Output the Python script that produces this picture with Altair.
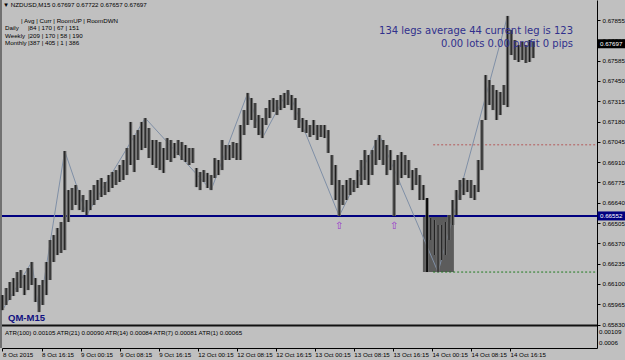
import altair as alt
import pandas as pd

# ---------------- data ----------------
# M15 candles, every 3rd bar sampled (bar index = 3*k)
bar_high = [0.66026, 0.66073, 0.66113, 0.66139, 0.66179, 0.66192, 0.66159, 0.66206, 0.66246, 0.66139,
            0.66093, 0.66126, 0.66246, 0.66392, 0.66425, 0.66472, 0.66512, 0.66984, 0.66724, 0.66738,
            0.66758, 0.66724, 0.66691, 0.66658, 0.66724, 0.66758, 0.66791, 0.66804, 0.66778, 0.66824,
            0.66844, 0.66857, 0.66891, 0.66924, 0.67004, 0.67177, 0.67090, 0.67123, 0.67177, 0.67203,
            0.67137, 0.67057, 0.67057, 0.67044, 0.67004, 0.67070, 0.67057, 0.67037, 0.67057, 0.67044,
            0.67024, 0.67004, 0.67004, 0.66871, 0.66844, 0.66857, 0.66838, 0.66824, 0.66937, 0.66924,
            0.67057, 0.67024, 0.67024, 0.67044, 0.67037, 0.67157, 0.67256, 0.67370, 0.67336, 0.67303,
            0.67223, 0.67203, 0.67270, 0.67323, 0.67336, 0.67323, 0.67356, 0.67370, 0.67389, 0.67356,
            0.67336, 0.67270, 0.67203, 0.67190, 0.67157, 0.67190, 0.67157, 0.67157, 0.67157, 0.67123,
            0.66957, 0.66891, 0.66791, 0.66758, 0.66791, 0.66804, 0.66791, 0.66857, 0.66924, 0.66990,
            0.66957, 0.66990, 0.67057, 0.67090, 0.67057, 0.67024, 0.66990, 0.66924, 0.66957, 0.66977,
            0.66957, 0.66924, 0.66857, 0.66871, 0.66824, 0.66758, 0.66671, 0.66538, 0.66525, 0.66492,
            0.66492, 0.66512, 0.66558, 0.66658, 0.66724, 0.66791, 0.66804, 0.66791, 0.66791, 0.66758,
            0.66924, 0.67190, 0.67489, 0.67456, 0.67423, 0.67389, 0.67376, 0.67423, 0.67882, 0.67788,
            0.67722, 0.67689, 0.67709, 0.67689, 0.67722, 0.67709]
bar_low = [0.65926, 0.65960, 0.65993, 0.66020, 0.66046, 0.66073, 0.66026, 0.66059, 0.66093, 0.65980,
           0.65913, 0.65960, 0.66026, 0.66126, 0.66246, 0.66292, 0.66306, 0.66325, 0.66512, 0.66591,
           0.66625, 0.66591, 0.66578, 0.66558, 0.66591, 0.66625, 0.66658, 0.66678, 0.66691, 0.66711,
           0.66738, 0.66758, 0.66778, 0.66791, 0.66824, 0.66891, 0.66844, 0.66924, 0.66990, 0.67004,
           0.66937, 0.66891, 0.66871, 0.66857, 0.66838, 0.66924, 0.66911, 0.66937, 0.66957, 0.66924,
           0.66911, 0.66891, 0.66904, 0.66744, 0.66724, 0.66778, 0.66738, 0.66724, 0.66804, 0.66824,
           0.66857, 0.66924, 0.66924, 0.66937, 0.66924, 0.66924, 0.67090, 0.67157, 0.67190, 0.67137,
           0.67090, 0.67070, 0.67157, 0.67203, 0.67243, 0.67223, 0.67256, 0.67270, 0.67290, 0.67256,
           0.67190, 0.67137, 0.67110, 0.67104, 0.67077, 0.67090, 0.67057, 0.67077, 0.67070, 0.66971,
           0.66758, 0.66658, 0.66552, 0.66625, 0.66658, 0.66691, 0.66711, 0.66738, 0.66758, 0.66791,
           0.66758, 0.66824, 0.66891, 0.66924, 0.66891, 0.66824, 0.66857, 0.66552, 0.66758, 0.66804,
           0.66824, 0.66804, 0.66724, 0.66758, 0.66658, 0.66658, 0.66179, 0.66392, 0.66292, 0.66179,
           0.66259, 0.66292, 0.66392, 0.66492, 0.66558, 0.66658, 0.66691, 0.66711, 0.66671, 0.66658,
           0.66711, 0.66857, 0.67190, 0.67290, 0.67256, 0.67190, 0.67223, 0.67290, 0.67276, 0.67622,
           0.67589, 0.67576, 0.67589, 0.67569, 0.67576, 0.67602]
bar_step = 3

# zigzag swing points (bar index, price)
zz_index = [0, 24, 30, 51, 69, 117, 171, 201, 213, 234, 276, 309, 357, 414]
zz_price = [0.65926, 0.66246, 0.65913, 0.66984, 0.66558, 0.67203, 0.66724, 0.67370,
            0.67070, 0.67389, 0.66552, 0.67090, 0.66179, 0.67882]

# signal arrows below double-bottom lows
arrow_index = [276, 321]
arrow_price = [0.66552, 0.66552]

# long signal bar and zone box
signal_index = [348]
signal_high = [0.66671]
signal_low = [0.66179]
box_x0, box_x1 = 344.6, 370.0
box_top, box_bottom = 0.66545, 0.66179

support_level = 0.66552
target_level = 0.67025
stop_level = 0.66179
levels_start = 353

price_ticks = [0.67855, 0.67720, 0.67585, 0.67450, 0.67315, 0.67180, 0.67045, 0.66910,
               0.66775, 0.66640, 0.66505, 0.66370, 0.66235, 0.66100, 0.65965, 0.65830]
time_labels = ["8 Oct 2015", "8 Oct 16:15", "9 Oct 00:15", "9 Oct 08:15", "9 Oct 16:15",
               "12 Oct 00:15", "12 Oct 08:15", "12 Oct 16:15", "13 Oct 00:15", "13 Oct 08:15",
               "13 Oct 16:15", "14 Oct 00:15", "14 Oct 08:15", "14 Oct 16:15"]
bars_per_label = 32
last_price = 0.67697

table_rows = ["Daily", "Weekly", "Monthly"]
table_vals = ["|84 | 170 | 67 | 151", "|209 | 170 | 58 | 190", "|387 | 405 | 1 | 386"]
atr_text = "ATR(100) 0.00105  ATR(21) 0.00090  ATR(14) 0.00084  ATR(7) 0.00081  ATR(1) 0.00065"
atr_labels = ["0.00109", "0.0006"]

# ---------------- chart ----------------
W, H = 595, 348
BG = "#C0C0C0"
SMALL = "Liberation Sans"
FS = 6.2
x_dom = [-0.4, 487.3]
y_dom = [0.65674, 0.67988]

xs = alt.Scale(domain=x_dom, nice=False, zero=False)
ys = alt.Scale(domain=y_dom, nice=False, zero=False)

label_js = "[" + ",".join("'" + t + "'" for t in time_labels) + "]"

x_axis = alt.Axis(values=[k * bars_per_label for k in range(len(time_labels))],
                  labelExpr=label_js + f"[round(datum.value/{bars_per_label})]",
                  title=None, grid=False, domainColor="black", tickColor="black", tickSize=3,
                  labelAlign="left", labelBaseline="middle", labelPadding=3,
                  labelFont=SMALL, labelFontSize=FS, labelColor="black",
                  labelOverlap=False, labelFlush=False, labelBound=False)
y_axis = alt.Axis(orient="right", values=price_ticks, format=".5f", title=None, grid=False,
                  domainColor="black", tickColor="black", tickSize=3, labelPadding=2,
                  labelFont=SMALL, labelFontSize=FS, labelColor="black", labelBaseline="middle",
                  labelOverlap=False, labelFlush=False, labelBound=False)


def X(f):
    return alt.X(f, scale=xs, axis=x_axis)


def Y(f):
    return alt.Y(f, scale=ys, axis=y_axis)


bars = pd.DataFrame({"i": [k * bar_step for k in range(len(bar_high))],
                     "hi": bar_high, "lo": bar_low})
zz = pd.DataFrame({"i": zz_index, "p": zz_price})
arrows = pd.DataFrame({"i": arrow_index, "p": arrow_price})
sig = pd.DataFrame({"i": signal_index, "hi": signal_high, "lo": signal_low})
box = pd.DataFrame({"x0": [box_x0], "x1": [box_x1], "t": [box_top], "b": [box_bottom]})
levels = pd.DataFrame({"p": [target_level, stop_level], "x0": [levels_start] * 2,
                       "x1": [x_dom[1]] * 2, "c": ["#b45a5a", "#1f7a1f"]})

box_layer = alt.Chart(box).mark_rect(color="#5c5c5c").encode(
    x=X("x0:Q"), x2="x1:Q", y=Y("t:Q"), y2="b:Q")

support = alt.Chart(pd.DataFrame({"p": [support_level]})).mark_rule(
    color="#000080", strokeWidth=2).encode(y=Y("p:Q"))

level_lines = alt.Chart(levels).mark_rule(strokeWidth=1, strokeDash=[2, 2]).encode(
    x=X("x0:Q"), x2="x1:Q", y=Y("p:Q"), color=alt.Color("c:N", scale=None))

zigzag = alt.Chart(zz).mark_line(color="#7f8fa6", strokeWidth=1).encode(
    x=X("i:Q"), y=Y("p:Q"))

bar_body = alt.Chart(bars).mark_rule(color="#6a6a6a", strokeWidth=3.4).encode(
    x=X("i:Q"), y=Y("lo:Q"), y2="hi:Q")
bar_line = alt.Chart(bars).mark_rule(color="#1e1e1e", strokeWidth=1.1).encode(
    x=X("i:Q"), y=Y("lo:Q"), y2="hi:Q")

sig_layer = alt.Chart(sig).mark_rule(color="black", strokeWidth=1.5).encode(
    x=X("i:Q"), y=Y("lo:Q"), y2="hi:Q")

arrow_layer = alt.Chart(arrows).mark_text(text="⇧", color="#9933cc", fontSize=10,
                                          font="DejaVu Sans", dy=10, baseline="middle").encode(
    x=X("i:Q"), y=Y("p:Q"))

# ATR sub-window
atr_panel = alt.Chart(pd.DataFrame({"a": [0]})).mark_rect(color=BG).encode(
    x=alt.value(0), x2=alt.value(W), y=alt.value(325), y2=alt.value(H))
sep = alt.Chart(pd.DataFrame({"a": [0]})).mark_rule(color="#111111", strokeWidth=2).encode(
    x=alt.value(0), x2=alt.value(W), y=alt.value(325.5))
left_border = alt.Chart(pd.DataFrame({"a": [0]})).mark_rule(color="#222222", strokeWidth=1).encode(
    x=alt.value(-1), y=alt.value(0), y2=alt.value(H))


def txt(s, x, y, size=FS, color="black", align="left", font=SMALL, weight="normal"):
    return alt.Chart(pd.DataFrame({"t": [s]})).mark_text(
        align=align, baseline="middle", fontSize=size, color=color, font=font,
        fontWeight=weight).encode(text="t:N", x=alt.value(x), y=alt.value(y))


texts = [
    txt("▼ NZDUSD,M15  0.67697 0.67722 0.67657 0.67697", 1, 5),
    txt("| Avg | Curr | RoomUP | RoomDWN", 19, 20.5),
]
for r, (name, vals) in enumerate(zip(table_rows, table_vals)):
    texts.append(txt(name, 3, 28 + 7.5 * r))
    texts.append(txt(vals, 26, 28 + 7.5 * r))
texts += [
    txt("134 legs average 44 current leg is 123", 571, 31, size=10, color="#30308c",
        align="right", font="DejaVu Sans"),
    txt("0.00 lots 0.00 profit  0 pips", 571, 44, size=10, color="#30308c",
        align="right", font="DejaVu Sans"),
    txt("QM-M15", 6, 318, size=9.5, color="#101080", weight="bold"),
    txt(atr_text, 3, 333),
    txt(atr_labels[0], 597, 332),
    txt(atr_labels[1], 597, 343),
]

tags = pd.DataFrame({"p": [last_price, support_level], "c": ["black", "#000080"],
                     "t": [f"{last_price:.5f}", f"{support_level:.5f}"]})
tag_box = alt.Chart(tags).mark_rule(strokeWidth=9, strokeCap="butt").encode(
    x=alt.value(595.5), x2=alt.value(623),
    y=Y("p:Q"), color=alt.Color("c:N", scale=None))
tag_text = alt.Chart(tags).mark_text(align="left", baseline="middle", fontSize=FS, font=SMALL,
                                     color="white").encode(
    x=alt.value(598), y=Y("p:Q"), text="t:N")

chart = alt.layer(
    box_layer, support, level_lines, zigzag, bar_body, bar_line, sig_layer, arrow_layer,
    atr_panel, sep, left_border, *texts, tag_box, tag_text
).properties(
    width=W, height=H, background=BG,
    padding={"left": 2, "top": 0, "right": 28, "bottom": 12},
    autosize=alt.AutoSizeParams(type="none"),
).configure_view(stroke=None)

chart.save("out.html", embed_options={"renderer": "svg", "actions": False})
